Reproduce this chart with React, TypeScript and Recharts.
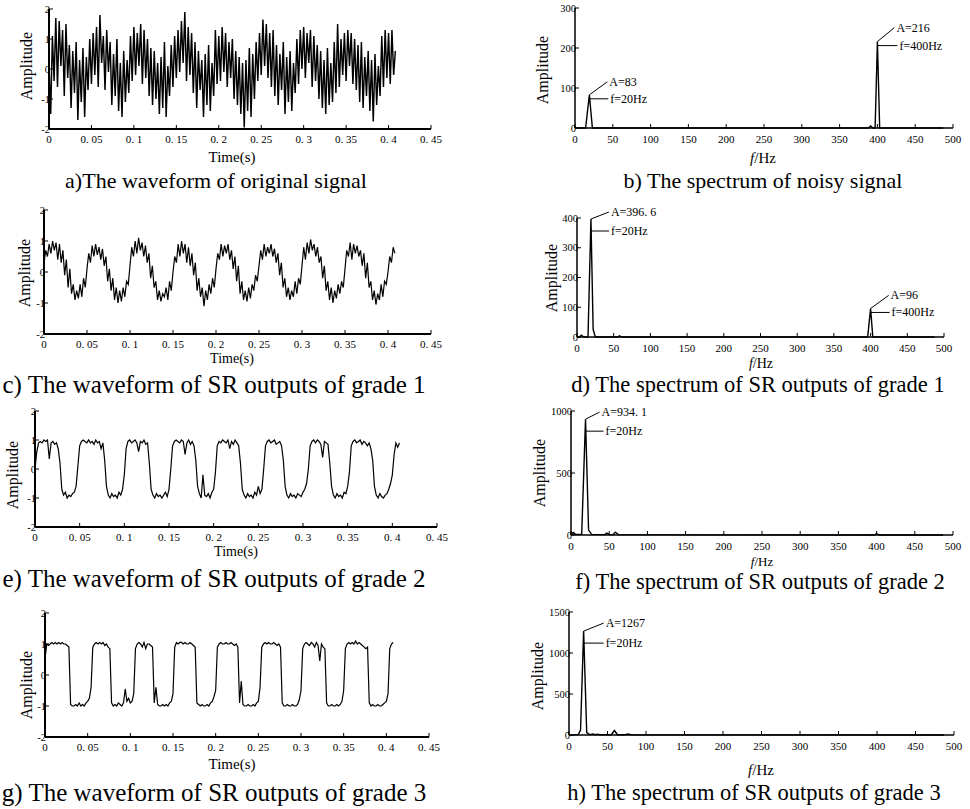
import React from "react";
import { LineChart, Line, XAxis, YAxis, ReferenceDot } from "recharts";

const SERIF = "'Liberation Serif', 'Times New Roman', serif";

// sampling step of the waveforms (s)
const T_STEP = 0.002;

// a) original noisy signal
const waveA = [
  0.2, -1.5, 1.1, -0.4, 1.7, -0.6, 1.6, 0.1, 1.3, -0.9, 1.5, -0.3, 0.8, -1.3, 0.6, -0.8, 0.9, -1.7, 0.3, -1.1, 0.7, -1.6, 0.4, -0.7, 1.0,
  -0.5, 1.2, -0.2, 1.4, -0.6, 1.8, 0.2, 1.1, -0.7, 1.3, -0.1, 0.9, -1.2, 0.5, -0.9, 1.0, -1.4, 0.2, -1.6, 0.6, -1.1, 0.3, -0.8, 1.1, -0.4,
  1.4, -0.2, 1.2, 0.1, 1.5, -0.5, 1.3, -0.3, 1.0, -0.9, 0.7, -1.2, 0.6, -1.0, 0.2, -1.5, 0.4, -1.3, 0.9, -1.6, 0.1, -0.9, 0.8, -0.6, 1.1,
  -0.3, 1.3, -0.1, 1.6, 0.2, 1.9, -0.4, 1.4, -0.2, 1.2, -0.8, 0.9, -1.3, 0.6, -0.7, 0.3, -1.6, 0.5, -1.2, 0.8, -1.4, 0.2, -0.9, 1.3, -0.5,
  1.1, -0.4, 1.4, -0.1, 1.2, -0.6, 0.9, -0.3, 1.0, -1.0, 0.6, -1.2, 0.4, -1.5, 0.2, -1.95, 0.3, -1.4, 0.7, -1.6, 0.5, -1.0, 0.9, -0.4, 1.2,
  -0.2, 1.65, 0.1, 1.5, -0.3, 1.2, -0.6, 1.3, -0.9, 0.8, -1.2, 0.5, -0.7, 0.9, -1.5, 0.4, -1.1, 0.6, -1.4, 0.2, -0.8, 1.0, -0.5, 1.3, 0.0,
  1.4, -0.3, 1.2, 0.2, 1.3, -0.6, 1.1, -0.4, 0.8, -1.0, 0.6, -1.3, 0.3, -1.5, 0.7, -1.2, 0.2, -1.1, 0.9, -0.8, 1.5, -0.6, 1.0, -0.2, 1.2,
  -0.4, 1.3, 0.1, 1.2, -0.5, 1.0, -0.7, 0.8, -1.1, 0.9, -1.3, 0.4, -0.9, 0.6, -1.4, 0.3, -1.75, 0.5, -1.2, 0.1, -0.9, 1.1, -0.6, 1.3, -0.3,
  1.2, -0.5, 1.3, -0.2, 0.6,
];

// c) SR output, grade 1
const waveC = [
  0.3, 0.7, 0.5, 0.9, 0.6, 1.0, 0.7, 0.95, 0.4, 0.9, 0.3, 0.7, -0.1, 0.4, -0.5, 0.1, -0.7, -0.4, -0.9, -0.6, -0.85, -0.4, -0.8, -0.2, -0.5,
  0.1, 0.6, 0.3, 0.85, 0.5, 0.9, 0.55, 0.8, 0.4, 0.75, 0.2, 0.5, -0.3, 0.1, -0.6, -0.2, -0.9, -0.5, -1.0, -0.6, -0.95, -0.5, -0.8, -0.3, -0.4,
  0.2, 0.8, 0.5, 1.0, 0.6, 1.1, 0.7, 0.95, 0.5, 0.85, 0.3, 0.6, -0.2, 0.2, -0.5, -0.3, -0.9, -0.6, -0.95, -0.7, -0.8, -0.5, -0.9, -0.3, -0.6,
  0.0, 0.5, 0.3, 0.9, 0.5, 1.0, 0.6, 0.9, 0.3, 0.8, 0.2, 0.6, -0.1, 0.3, -0.6, -0.2, -0.8, -0.5, -1.1, -0.6, -0.9, -0.4, -0.7, -0.2, -0.5,
  0.1, 0.6, 0.4, 0.9, 0.5, 0.85, 0.6, 0.9, 0.4, 0.7, 0.1, 0.5, -0.3, 0.2, -0.7, -0.3, -0.9, -0.6, -0.95, -0.5, -0.85, -0.4, -0.6, -0.1, -0.3,
  0.2, 0.7, 0.4, 0.9, 0.5, 0.8, 0.6, 0.9, 0.5, 0.75, 0.3, 0.6, -0.1, 0.3, -0.5, -0.2, -0.8, -0.5, -0.9, -0.6, -0.8, -0.3, -0.7, -0.2, -0.4,
  0.2, 0.8, 0.4, 0.95, 0.6, 1.05, 0.7, 0.9, 0.5, 0.8, 0.3, 0.5, -0.2, 0.2, -0.6, -0.3, -0.9, -0.5, -1.0, -0.6, -0.85, -0.4, -0.7, -0.3, -0.5,
  0.1, 0.7, 0.5, 0.95, 0.4, 0.9, 0.6, 0.85, 0.5, 0.7, 0.2, 0.6, -0.2, 0.3, -0.5, -0.3, -0.9, -0.6, -1.05, -0.7, -0.9, -0.4, -0.8, -0.3, -0.4,
  0.0, 0.5, 0.3, 0.8, 0.6,
];

// e) SR output, grade 2
const waveE = [
  0.0, 0.6, 0.9, 0.95, 0.9, 1.0, 0.95, 1.0, 0.35, 0.9,
  0.95, 0.85, 0.9, 0.7, 0.2, -0.7, -0.9, -0.8, -1.0, -0.9,
  -0.95, -0.85, -0.8, -0.6, 0.1, 0.8, 0.95, 1.0, 0.95, 0.9,
  1.0, 0.9, 0.95, 0.85, 1.0, 0.9, 0.95, 0.7, 0.9, 0.3,
  -0.6, -0.9, -1.0, -0.85, -0.95, -0.9, -1.0, -0.8, -0.9, -0.7,
  -0.2, 0.7, 0.95, 1.0, 0.9, 0.95, 1.0, 0.9, 0.6, 0.95,
  0.9, 1.0, 0.85, 0.9, 0.2, -0.7, -0.9, -1.0, -0.85, -0.95,
  -0.9, -1.0, -0.9, -0.8, -0.95, -0.7, 0.0, 0.8, 0.95, 1.0,
  0.95, 0.9, 1.0, 0.95, 0.5, 0.9, 1.0, 0.85, 0.95, 0.8,
  0.3, -0.6, -0.85, -1.0, -0.2, -0.9, -0.95, -0.85, -1.0, -0.8,
  -0.7, -0.1, 0.8, 0.95, 0.9, 1.0, 0.95, 0.9, 1.0, 0.7,
  0.95, 0.85, 1.0, 0.9, 0.8, 0.2, -0.7, -0.9, -1.0, -0.85,
  -0.95, -0.9, -1.0, -0.8, -0.9, -0.6, -0.85, -0.7, 0.0, 0.8,
  0.95, 1.0, 0.9, 0.95, 1.0, 0.85, 0.9, 0.95, 0.8, 0.3,
  -0.6, -0.9, -1.0, -0.85, -0.95, -0.9, -1.0, -0.85, -0.9, -0.95,
  -0.8, -0.7, -0.5, 0.0, 0.8, 0.95, 1.0, 0.9, 1.0, 0.95,
  0.85, 0.4, 0.95, 0.9, 0.85, 0.2, -0.6, -0.9, -1.0, -0.85,
  -0.95, -0.9, -1.0, -0.8, -0.85, -0.6, -0.1, 0.8, 0.95, 1.0,
  0.9, 0.95, 1.0, 0.85, 0.95, 0.9, 0.8, 0.9, 0.7, 0.3,
  -0.6, -0.9, -1.0, -0.85, -0.95, -1.0, -0.9, -0.85, -0.7, -0.5,
  -0.2, 0.5, 0.9, 0.75, 0.9,
];

// g) SR output, grade 3
const waveG = [
  0.5, 1.0, 0.95, 1.0, 1.05, 1.0, 1.05, 1.0, 1.05, 1.0,
  1.05, 1.0, 1.0, 0.95, 0.9, -0.95, -1.0, -1.0, -0.95, -1.0,
  -0.9, -1.0, -0.95, -1.0, -0.9, -0.85, -0.75, -0.4, 0.9, 1.0,
  1.05, 1.0, 1.05, 1.0, 1.05, 0.95, 1.0, 0.9, 0.85, -0.9,
  -1.0, -0.95, -1.0, -0.9, -0.95, -1.0, -0.9, -0.45, -0.85, -0.75,
  -0.9, -0.85, -0.6, 0.85, 1.0, 1.05, 1.0, 0.9, 1.05, 0.85,
  1.0, 1.0, 0.95, 0.9, -0.9, -0.4, -0.95, -1.0, -1.0, -0.95,
  -1.0, -0.95, -1.0, -0.9, -0.85, -0.6, 0.9, 1.05, 1.0, 1.05,
  1.05, 1.0, 1.05, 1.0, 1.0, 1.05, 1.0, 0.95, 0.9, -0.9,
  -0.95, -1.0, -0.95, -1.0, -1.0, -0.95, -1.0, -0.9, -0.85, -0.7,
  -0.5, 0.9, 1.0, 1.05, 1.0, 1.0, 1.05, 1.0, 1.0, 1.05,
  1.0, 0.95, 1.0, 0.9, -0.9, -0.2, -0.95, -1.0, -1.0, -0.95,
  -1.0, -1.0, -0.95, -1.0, -0.9, -0.85, -0.4, 0.9, 1.0, 1.05,
  1.0, 1.05, 1.0, 1.0, 1.05, 1.0, 0.95, 1.0, 0.9, -0.9,
  -1.0, -1.0, -0.95, -1.0, -1.0, -0.95, -1.0, -1.0, -0.95, -0.8,
  -0.5, 0.85, 1.0, 1.05, 1.0, 0.95, 1.05, 1.0, 0.9, 1.05,
  0.95, 0.45, 1.0, 0.9, 0.85, -0.9, -1.0, -1.0, -0.95, -1.0,
  -1.0, -0.95, -1.0, -0.95, -0.85, -0.5, 0.85, 1.0, 1.05, 1.0,
  1.05, 1.0, 1.1, 1.0, 1.05, 1.0, 0.95, 0.9, 0.85, 0.9,
  -0.9, -1.0, -0.95, -1.0, -1.0, -0.95, -1.0, -1.0, -0.95, -0.9,
  -0.85, -0.6, 0.85, 1.0, 1.05,
];

// spectra: frequency (Hz) / amplitude pairs
const freqB = [0, 14, 19, 23, 388, 391, 394, 397, 400, 403, 487];
const ampB = [0, 0, 83, 0, 0, 5, 0, 0, 216, 0, 0];

const freqD = [0, 3, 6, 9, 15, 19, 22, 25, 55, 58, 61, 396, 400, 403, 487];
const ampD = [0, 0, 6, 0, 0, 396.6, 25, 0, 0, 4, 0, 0, 96, 0, 0];

const freqF = [0, 3, 6, 14, 19, 23, 27, 44, 47, 50, 55, 58, 62, 397, 400, 403, 487];
const ampF = [5, 20, 5, 5, 934.1, 40, 5, 3, 15, 3, 3, 22, 3, 0, 12, 0, 0];

const freqH = [0, 12, 15, 19, 23, 27, 31, 34, 37, 40, 44, 55, 59, 63, 73, 77, 81, 487];
const ampH = [0, 5, 60, 1267, 30, 5, 12, 3, 10, 3, 3, 3, 55, 3, 3, 12, 2, 0];

// ticks
const timeTicks = [0, 0.05, 0.1, 0.15, 0.2, 0.25, 0.3, 0.35, 0.4, 0.45];
const waveAmpTicks = [-2, -1, 0, 1, 2];
const freqTicks = [0, 50, 100, 150, 200, 250, 300, 350, 400, 450, 500];
const ampTicksB = [0, 100, 200, 300];
const ampTicksD = [0, 100, 200, 300, 400];
const ampTicksF = [0, 500, 1000];
const ampTicksH = [0, 500, 1000, 1500];

const fmtTime = (v: number) =>
  v === 0 ? "0" : String(+v.toFixed(2)).replace(".", ". ");

type Box = { left: number; top: number; width: number; height: number };
type Plot = { x0: number; y0: number; x1: number; y1: number };

// axes get 1px of room each (a zero-sized axis is not drawn)
const marginOf = (b: Box, p: Plot) => ({
  left: p.x0 - b.left - 1,
  top: p.y0 - b.top,
  right: b.left + b.width - p.x1,
  bottom: b.top + b.height - p.y1 - 1,
});

const BottomTick = (props: any) => {
  const { x, y, payload, fmt, gap } = props;
  return (
    <g>
      <line x1={x} y1={y} x2={x} y2={y - 4} stroke='#000' strokeWidth={1} />
      <text x={x} y={y + gap} textAnchor='middle' fontSize={11} fontFamily={SERIF} fill='#000'>
        {fmt ? fmt(payload.value) : payload.value}
      </text>
    </g>
  );
};

const LeftTick = (props: any) => {
  const { x, y, payload } = props;
  return (
    <g>
      <line x1={x} y1={y} x2={x + 4} y2={y} stroke='#000' strokeWidth={1} />
      <text x={x + 1} y={y + 3.5} textAnchor='end' fontSize={10.5} fontFamily={SERIF} fill='#000'>
        {payload.value}
      </text>
    </g>
  );
};

// leader lines + text for a spectral peak
const PeakNote = (props: any) => {
  const { cx, cy, aText, fText, dx, dy, hy, hx } = props;
  return (
    <g>
      <line x1={cx} y1={cy} x2={cx + dx} y2={cy + dy} stroke='#000' strokeWidth={1} />
      <text x={cx + dx + 2} y={cy + dy + 4} fontSize={12} fontFamily={SERIF} fill='#000'>
        {aText}
      </text>
      <line x1={cx} y1={cy + hy} x2={cx + hx} y2={cy + hy} stroke='#000' strokeWidth={1} />
      <text x={cx + hx + 2} y={cy + hy + 4} fontSize={12} fontFamily={SERIF} fill='#000'>
        {fText}
      </text>
    </g>
  );
};

function WaveChart({
  values,
  box,
  plot,
  lineWidth = 1.2,
}: {
  values: number[];
  box: Box;
  plot: Plot;
  lineWidth?: number;
}) {
  const data = values.map((v, i) => ({ t: i * T_STEP, v }));
  return (
    <div style={{ position: "absolute", left: box.left, top: box.top }}>
      <LineChart width={box.width} height={box.height} data={data} margin={marginOf(box, plot)}>
        <XAxis
          type='number'
          dataKey='t'
          domain={[0, 0.45]}
          ticks={timeTicks}
          interval={0}
          height={1}
          tickSize={0}
          tickMargin={0}
          tickLine={false}
          axisLine={{ stroke: "#000", strokeWidth: 2 }}
          tick={(p: any) => <BottomTick {...p} fmt={fmtTime} gap={14} />}
        />
        <YAxis
          type='number'
          domain={[-2, 2]}
          ticks={waveAmpTicks}
          interval={0}
          width={1}
          tickSize={0}
          tickMargin={0}
          tickLine={false}
          axisLine={{ stroke: "#000", strokeWidth: 2 }}
          tick={(p: any) => <LeftTick {...p} />}
        />
        <Line
          type='linear'
          dataKey='v'
          stroke='#000'
          strokeWidth={lineWidth}
          dot={false}
          isAnimationActive={false}
        />
      </LineChart>
    </div>
  );
}

type Note = { f: number; a: number; aText: string; fText: string; dx: number; dy: number; hy: number; hx: number };

function SpecChart({
  freqs,
  amps,
  yTicks,
  notes,
  box,
  plot,
}: {
  freqs: number[];
  amps: number[];
  yTicks: number[];
  notes: Note[];
  box: Box;
  plot: Plot;
}) {
  const data = freqs.map((f, i) => ({ f, a: amps[i] }));
  return (
    <div style={{ position: "absolute", left: box.left, top: box.top }}>
      <LineChart width={box.width} height={box.height} data={data} margin={marginOf(box, plot)}>
        <XAxis
          type='number'
          dataKey='f'
          domain={[0, 500]}
          ticks={freqTicks}
          interval={0}
          height={1}
          tickSize={0}
          tickMargin={0}
          tickLine={false}
          axisLine={{ stroke: "#000", strokeWidth: 1.5 }}
          tick={(p: any) => <BottomTick {...p} gap={15} />}
        />
        <YAxis
          type='number'
          domain={[yTicks[0], yTicks[yTicks.length - 1]]}
          ticks={yTicks}
          interval={0}
          width={1}
          tickSize={0}
          tickMargin={0}
          tickLine={false}
          axisLine={{ stroke: "#000", strokeWidth: 1.5 }}
          tick={(p: any) => <LeftTick {...p} />}
        />
        <Line
          type='linear'
          dataKey='a'
          stroke='#000'
          strokeWidth={1.4}
          dot={false}
          isAnimationActive={false}
        />
        {notes.map((n, i) => (
          <ReferenceDot
            key={i}
            x={n.f}
            y={n.a}
            r={0}
            shape={(p: any) => <PeakNote {...n} cx={p.cx} cy={p.cy} />}
          />
        ))}
      </LineChart>
    </div>
  );
}

const Txt = ({ x, y, size, children, rotate }: any) => (
  <div
    style={{
      position: "absolute",
      left: x,
      top: y,
      transform: `translate(-50%, -50%)${rotate ? " rotate(-90deg)" : ""}`,
      fontFamily: SERIF,
      fontSize: size,
      lineHeight: 1,
      whiteSpace: "nowrap",
      color: "#000",
    }}
  >
    {children}
  </div>
);

const FHz = () => (
  <span>
    <i>f</i>/Hz
  </span>
);

export default function App() {
  return (
    <div
      style={{
        position: "absolute",
        left: 0,
        top: 0,
        width: 970,
        height: 809,
        background: "#fff",
        overflow: "hidden",
      }}
    >
      {/* left column: waveforms */}
      <WaveChart values={waveA} lineWidth={1.45} box={{ left: 0, top: 0, width: 460, height: 150 }} plot={{ x0: 49, y0: 9, x1: 431, y1: 129 }} />
      <WaveChart values={waveC} box={{ left: 0, top: 195, width: 460, height: 155 }} plot={{ x0: 44, y0: 210, x1: 431, y1: 334 }} />
      <WaveChart values={waveE} box={{ left: 0, top: 395, width: 460, height: 150 }} plot={{ x0: 35, y0: 411, x1: 437, y1: 527 }} />
      <WaveChart values={waveG} box={{ left: 0, top: 600, width: 460, height: 160 }} plot={{ x0: 45, y0: 613, x1: 429, y1: 737 }} />

      {/* right column: spectra */}
      <SpecChart
        freqs={freqB}
        amps={ampB}
        yTicks={ampTicksB}
        box={{ left: 500, top: 0, width: 470, height: 150 }}
        plot={{ x0: 575, y0: 8, x1: 953, y1: 128 }}
        notes={[
          { f: 19, a: 83, aText: "A=83", fText: "f=20Hz", dx: 18, dy: -13, hy: 4, hx: 19 },
          { f: 400, a: 216, aText: "A=216", fText: "f=400Hz", dx: 17, dy: -14, hy: 4, hx: 20 },
        ]}
      />
      <SpecChart
        freqs={freqD}
        amps={ampD}
        yTicks={ampTicksD}
        box={{ left: 500, top: 195, width: 470, height: 160 }}
        plot={{ x0: 577, y0: 218, x1: 944, y1: 337 }}
        notes={[
          { f: 19, a: 396.6, aText: "A=396. 6", fText: "f=20Hz", dx: 18, dy: -7, hy: 12, hx: 18 },
          { f: 400, a: 96, aText: "A=96", fText: "f=400Hz", dx: 18, dy: -13, hy: 4, hx: 19 },
        ]}
      />
      <SpecChart
        freqs={freqF}
        amps={ampF}
        yTicks={ampTicksF}
        box={{ left: 500, top: 395, width: 470, height: 160 }}
        plot={{ x0: 571, y0: 411, x1: 953, y1: 535 }}
        notes={[{ f: 19, a: 934.1, aText: "A=934. 1", fText: "f=20Hz", dx: 14, dy: -7, hy: 12, hx: 18 }]}
      />
      <SpecChart
        freqs={freqH}
        amps={ampH}
        yTicks={ampTicksH}
        box={{ left: 500, top: 600, width: 470, height: 160 }}
        plot={{ x0: 569, y0: 612, x1: 954, y1: 735 }}
        notes={[{ f: 19, a: 1267, aText: "A=1267", fText: "f=20Hz", dx: 20, dy: -8, hy: 12, hx: 20 }]}
      />

      {/* axis titles */}
      <Txt x={27} y={66} size={16} rotate>Amplitude</Txt>
      <Txt x={25} y={273} size={16} rotate>Amplitude</Txt>
      <Txt x={13} y={475} size={16} rotate>Amplitude</Txt>
      <Txt x={27} y={685} size={16} rotate>Amplitude</Txt>
      <Txt x={543} y={70} size={16} rotate>Amplitude</Txt>
      <Txt x={552} y={278} size={16} rotate>Amplitude</Txt>
      <Txt x={540} y={473} size={16} rotate>Amplitude</Txt>
      <Txt x={538} y={676} size={16} rotate>Amplitude</Txt>

      <Txt x={232} y={157} size={15}>Time(s)</Txt>
      <Txt x={232} y={359} size={14}>Time(s)</Txt>
      <Txt x={236} y={552} size={14}>Time(s)</Txt>
      <Txt x={232} y={764} size={15}>Time(s)</Txt>
      <Txt x={763} y={158} size={15}><FHz /></Txt>
      <Txt x={761} y={364} size={14}><FHz /></Txt>
      <Txt x={762} y={561} size={13}><FHz /></Txt>
      <Txt x={761} y={770} size={15}><FHz /></Txt>

      {/* subplot captions */}
      <Txt x={216} y={181} size={22}>a)The waveform of original signal</Txt>
      <Txt x={763} y={181} size={22}>b) The spectrum of noisy signal</Txt>
      <Txt x={214} y={384} size={25}>c) The waveform of SR outputs of grade 1</Txt>
      <Txt x={758} y={385} size={22.5}>d) The spectrum of SR outputs of grade 1</Txt>
      <Txt x={214} y={578} size={25}>e) The waveform of SR outputs of grade 2</Txt>
      <Txt x={760} y={582} size={22.5}>f) The spectrum of SR outputs of grade 2</Txt>
      <Txt x={214} y={792} size={25}>g) The waveform of SR outputs of grade 3</Txt>
      <Txt x={754} y={793} size={22.5}>h) The spectrum of SR outputs of grade 3</Txt>
    </div>
  );
}
